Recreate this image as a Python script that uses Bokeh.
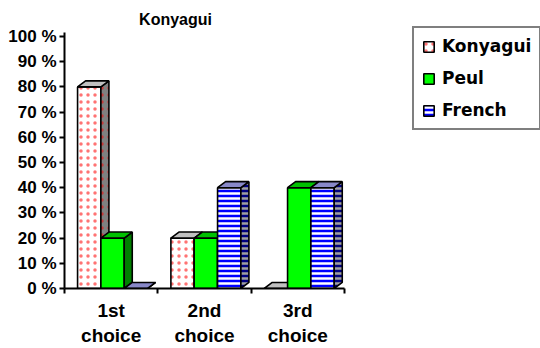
from bokeh.plotting import figure
from bokeh.models import Range1d, LinearAxis, FixedTicker, Legend, LegendItem, Label
from bokeh.embed import file_html
from bokeh.resources import INLINE

# ---- data ----
categories = ["1st", "2nd", "3rd"]
category_sub = ["choice", "choice", "choice"]
series_names = ["Konyagui", "Peul", "French"]
konyagui = [80, 20, 0]
peul = [20, 20, 40]
french = [0, 40, 40]
y_ticks = [0, 10, 20, 30, 40, 50, 60, 70, 80, 90, 100]
y_tick_labels = ["0 %", "10 %", "20 %", "30 %", "40 %", "50 %", "60 %", "70 %", "80 %", "90 %", "100 %"]
title_text = "Konyagui"

# ---- geometry / style (not data) ----
BAR_W = 0.25
START = 0.14
DX = 0.086
DY = 2.4
FONT = "Liberation Sans"
BOTTOM = 60          # expected pixel height of the two bottom axes
FRAME_H = 348 - BOTTOM
PX_PER_UNIT = 2.52

styles = [
    dict(front="#ffffff", side="#808080", top="#c0c0c0", hatch="dot", hcol_f="#ff0000", hcol_s="#ff0000", hscale=7, hweight=0.6, halpha=0.55),
    dict(front="#00ff00", side="#008000", top="#00c000", hatch=None, hcol_f=None, hcol_s=None, hscale=6, hweight=1, halpha=1.0),
    dict(front="#0000ff", side="#000080", top="#8888c8", hatch="horizontal_line", hcol_f="#ffffff", hcol_s="#a0a0a0", hscale=5, hweight=2.5, halpha=1.0),
]

p = figure(width=540, height=348, output_backend="svg", toolbar_location=None,
           x_range=Range1d(0, 476 / 93.33), y_range=Range1d(0, FRAME_H / PX_PER_UNIT),
           min_border_left=64, min_border_right=0, min_border_top=0, min_border_bottom=BOTTOM,
           background_fill_color="white", border_fill_color="white", outline_line_color=None)
p.grid.visible = False

series_values = [konyagui, peul, french]
legend_items = []
for i, (name, vals) in enumerate(zip(series_names, series_values)):
    st = styles[i]
    xs0 = [c + START + i * BAR_W for c in range(len(categories))]
    xs1 = [x + BAR_W for x in xs0]
    hatch_kw_f = {}
    hatch_kw_s = {}
    if st["hatch"]:
        hatch_kw_f = dict(hatch_pattern=st["hatch"], hatch_color=st["hcol_f"], hatch_scale=st["hscale"],
                          hatch_weight=st["hweight"], hatch_alpha=st["halpha"])
        hatch_kw_s = dict(hatch_pattern=st["hatch"], hatch_color=st["hcol_s"], hatch_scale=st["hscale"],
                          hatch_weight=st["hweight"], hatch_alpha=st["halpha"])
    front = p.quad(left=xs0, right=xs1, bottom=[0] * len(vals), top=vals,
                   fill_color=st["front"], line_color="black", line_width=1.6, **hatch_kw_f)
    side_xs = [[x1, x1 + DX, x1 + DX, x1] for x1 in xs1]
    side_ys = [[0, DY, v + DY, v] for v in vals]
    p.patches(side_xs, side_ys, fill_color=st["side"], line_color="black", line_width=1.6, **hatch_kw_s)
    top_xs = [[x0, x1, x1 + DX, x0 + DX] for x0, x1 in zip(xs0, xs1)]
    top_ys = [[v, v, v + DY, v + DY] for v in vals]
    p.patches(top_xs, top_ys, fill_color=st["top"], line_color="black", line_width=1.6)
    legend_items.append(LegendItem(label=name, renderers=[front]))

# y axis
ya = p.yaxis[0]
ya.ticker = FixedTicker(ticks=y_ticks)
ya.major_label_overrides = {t: l for t, l in zip(y_ticks, y_tick_labels)}
ya.bounds = (0, 101.6)
ya.axis_line_width = 2
ya.axis_line_color = "black"
ya.major_tick_line_width = 2
ya.major_tick_out = 5
ya.major_tick_in = 0
ya.minor_tick_line_color = None
ya.major_label_standoff = 3
ya.major_label_text_font = FONT
ya.major_label_text_font_style = "bold"
ya.major_label_text_font_size = "17px"
ya.major_label_text_color = "black"

# x axis (first line of category labels)
centers = [c + 0.5 for c in range(len(categories))]
xa = p.xaxis[0]
xa.ticker = FixedTicker(ticks=centers, minor_ticks=list(range(len(categories) + 1)))
xa.major_label_overrides = {c: l for c, l in zip(centers, categories)}
xa.bounds = (0, len(categories))
xa.axis_line_width = 2
xa.axis_line_color = "black"
xa.major_tick_line_color = None
xa.major_tick_out = 0
xa.major_tick_in = 0
xa.minor_tick_line_color = "black"
xa.minor_tick_line_width = 2
xa.minor_tick_out = 5
xa.minor_tick_in = 0
xa.major_label_standoff = 6
xa.major_label_text_font = FONT
xa.major_label_text_font_style = "bold"
xa.major_label_text_font_size = "19px"
xa.major_label_text_color = "black"

# second line of category labels
xa2 = LinearAxis(ticker=FixedTicker(ticks=centers),
                 major_label_overrides={c: l for c, l in zip(centers, category_sub)})
xa2.axis_line_color = None
xa2.major_tick_line_color = None
xa2.minor_tick_line_color = None
xa2.major_tick_out = 0
xa2.major_label_standoff = 1
xa2.major_label_text_font = FONT
xa2.major_label_text_font_style = "bold"
xa2.major_label_text_font_size = "19px"
xa2.major_label_text_color = "black"
p.add_layout(xa2, "below")

# title (inside the frame, above the value axis)
p.add_layout(Label(x=1.19, y=(FRAME_H - 19) / PX_PER_UNIT, text=title_text, text_align="center",
                   text_baseline="middle", text_font=FONT, text_font_style="bold",
                   text_font_size="16px", text_color="black"))

legend = Legend(items=legend_items, location=(348, FRAME_H - 130), orientation="vertical",
                label_text_font="DejaVu Sans", label_text_font_style="bold", label_text_font_size="17px",
                label_text_color="black", label_height=20, label_standoff=7,
                glyph_height=13, glyph_width=13, spacing=12, padding=8, margin=0,
                border_line_color="black", border_line_width=2, background_fill_alpha=1,
                background_fill_color="white")
p.add_layout(legend)

open("out.html", "w").write(file_html(p, INLINE))
